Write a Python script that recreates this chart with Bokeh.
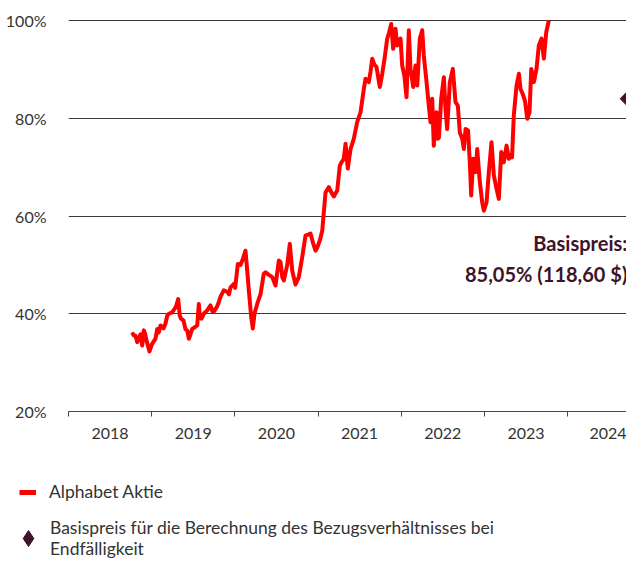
from bokeh.plotting import figure
from bokeh.layouts import column, row
from bokeh.models import Range1d, FixedTicker, Label, Legend, LegendItem, PrintfTickFormatter
from bokeh.embed import file_html
from bokeh.resources import INLINE

# ---- data ----
years = [2018.766, 2018.782, 2018.806, 2018.826, 2018.845, 2018.866, 2018.886, 2018.905, 2018.920, 2018.938,
         2018.974, 2019.004, 2019.046, 2019.067, 2019.086, 2019.106, 2019.142, 2019.166, 2019.187, 2019.206,
         2019.247, 2019.275, 2019.293, 2019.319, 2019.338, 2019.353, 2019.383, 2019.407, 2019.427, 2019.447,
         2019.467, 2019.487, 2019.515, 2019.548, 2019.567, 2019.579, 2019.599, 2019.627, 2019.668, 2019.707,
         2019.731, 2019.747, 2019.788, 2019.807, 2019.828, 2019.867, 2019.908, 2019.930, 2019.948, 2019.988,
         2020.004, 2020.036, 2020.068, 2020.092, 2020.128, 2020.149, 2020.168, 2020.197, 2020.216, 2020.236,
         2020.269, 2020.309, 2020.348, 2020.369, 2020.405, 2020.449, 2020.489, 2020.529, 2020.549, 2020.570,
         2020.589, 2020.630, 2020.661, 2020.690, 2020.729, 2020.769, 2020.810, 2020.850, 2020.880, 2020.910,
         2020.940, 2020.970, 2020.990, 2021.022, 2021.051, 2021.066, 2021.090, 2021.130, 2021.150, 2021.171,
         2021.190, 2021.231, 2021.262, 2021.283, 2021.310, 2021.331, 2021.358, 2021.391, 2021.430, 2021.471,
         2021.511, 2021.551, 2021.571, 2021.611, 2021.631, 2021.652, 2021.676, 2021.703, 2021.743, 2021.772,
         2021.800, 2021.832, 2021.854, 2021.880, 2021.904, 2021.932, 2021.952, 2021.992, 2022.012, 2022.040,
         2022.064, 2022.092, 2022.112, 2022.145, 2022.172, 2022.193, 2022.224, 2022.253, 2022.272, 2022.305,
         2022.332, 2022.353, 2022.373, 2022.392, 2022.413, 2022.425, 2022.440, 2022.453, 2022.481, 2022.513,
         2022.533, 2022.553, 2022.585, 2022.621, 2022.653, 2022.681, 2022.705, 2022.734, 2022.753, 2022.774,
         2022.804, 2022.825, 2022.842, 2022.866, 2022.894, 2022.914, 2022.946, 2022.974, 2022.994, 2023.026,
         2023.054, 2023.086, 2023.114, 2023.146, 2023.174, 2023.203, 2023.234, 2023.267, 2023.294, 2023.315,
         2023.333, 2023.354, 2023.387, 2023.415, 2023.435, 2023.467, 2023.489, 2023.516, 2023.543, 2023.564,
         2023.595, 2023.627, 2023.655, 2023.687, 2023.715, 2023.744, 2023.775]

values = [36.2, 35.6, 35.5, 34.2, 34.9, 35.8, 33.5, 36.6, 36.0, 34.5,
          32.3, 33.8, 34.9, 36.9, 36.2, 37.6, 37.0, 38.0, 39.6, 40.0,
          40.3, 41.0, 41.5, 43.0, 39.6, 39.0, 38.6, 36.8, 36.6, 34.9,
          35.8, 36.9, 37.2, 37.6, 42.0, 39.3, 39.0, 40.0, 40.7, 41.7,
          40.5, 40.4, 41.5, 42.4, 43.5, 44.8, 44.5, 44.0, 45.4, 46.1,
          45.3, 50.2, 50.0, 51.0, 52.9, 48.8, 44.8, 39.3, 37.0, 40.0,
          42.0, 44.0, 48.2, 48.5, 48.0, 47.5, 45.8, 50.9, 50.6, 47.5,
          46.8, 50.0, 54.3, 48.8, 46.0, 47.5, 51.6, 56.0, 56.2, 56.4,
          54.5, 52.9, 53.5, 55.0, 57.0, 60.0, 64.8, 65.9, 65.2, 64.5,
          64.0, 65.2, 70.3, 71.0, 71.7, 74.8, 69.7, 73.7, 75.8, 79.2,
          81.2, 86.0, 88.1, 87.4, 89.5, 92.2, 91.0, 90.5, 86.4, 89.1,
          92.2, 96.3, 97.5, 99.3, 94.2, 98.3, 94.9, 96.3, 90.8, 88.5,
          84.3, 98.0, 90.1, 86.4, 90.8, 86.7, 96.3, 98.0, 92.8, 87.4,
          82.6, 79.2, 84.0, 74.4, 80.6, 81.2, 75.8, 76.0, 84.0, 88.4,
          81.9, 77.8, 87.4, 90.1, 83.3, 82.6, 77.1, 75.8, 73.7, 77.8,
          77.5, 71.0, 64.2, 71.7, 69.0, 73.7, 66.9, 62.8, 61.1, 62.8,
          69.0, 75.1, 68.3, 65.6, 63.5, 73.1, 71.0, 74.4, 71.7, 72.5,
          72.0, 80.6, 86.7, 89.1, 86.0, 84.7, 83.5, 79.9, 81.2, 90.1,
          87.4, 90.1, 94.9, 96.3, 92.2, 97.6, 100.0]

year_bounds = [2018, 2019, 2020, 2021, 2022, 2023, 2024, 2025]
year_labels = ["2018", "2019", "2020", "2021", "2022", "2023", "2024"]
y_ticks = [20, 40, 60, 80, 100]

strike_year = [2024.709]
strike_value = [84.0]
strike_title = "Basispreis:"
strike_text = "85,05% (118,60 $)"

series_name = "Alphabet Aktie"
strike_name = "Basispreis für die Berechnung des Bezugsverhältnisses bei\nEndfälligkeit"

FONT = "Lato"
RED = "#ff0000"
MAROON = "#3d1428"
TXT = "#333333"

p = figure(width=626, height=445, output_backend="svg", toolbar_location=None,
           x_range=Range1d(2018, 2024.709), y_range=Range1d(20, 102.05),
           min_border_left=68, min_border_right=0, min_border_top=10, min_border_bottom=34)
p.outline_line_color = None
p.background_fill_color = "white"
p.border_fill_color = "white"

# x axis: labels centred in each year, small tick marks at year boundaries
label_pos = [(a + b) / 2 for a, b in zip(year_bounds[:-1], year_bounds[1:])]
p.xaxis.ticker = FixedTicker(ticks=label_pos, minor_ticks=year_bounds)
p.xaxis.major_label_overrides = {pos: lab for pos, lab in zip(label_pos, year_labels)}
p.xaxis.major_tick_line_color = None
p.xaxis.minor_tick_in = 0
p.xaxis.minor_tick_out = 5
p.xaxis.minor_tick_line_color = "#444444"
p.xaxis.axis_line_color = "#444444"
p.xaxis.major_label_standoff = 10
p.xaxis.major_label_text_font = FONT
p.xaxis.major_label_text_font_size = "16px"
p.xaxis.major_label_text_color = TXT

p.yaxis.ticker = FixedTicker(ticks=y_ticks)
p.yaxis.formatter = PrintfTickFormatter(format="%d%%")
p.yaxis.axis_line_color = None
p.yaxis.major_tick_line_color = None
p.yaxis.minor_tick_line_color = None
p.yaxis.major_label_standoff = 16
p.yaxis.major_label_text_font = FONT
p.yaxis.major_label_text_font_size = "16px"
p.yaxis.major_label_text_color = TXT

p.xgrid.grid_line_color = None
p.ygrid.grid_line_color = "#3a3a3a"
p.ygrid.grid_line_width = 1

p.line(years, values, line_color=RED, line_width=4, line_join="round")
p.scatter(strike_year, strike_value, marker="square", angle=0.7854, size=9,
          fill_color=MAROON, line_color=MAROON)

p.add_layout(Label(x=2024.72, y=54.4, text=strike_title, text_align="right", text_baseline="middle",
                   text_font=FONT, text_font_style="bold", text_font_size="20px", text_color=MAROON))
p.add_layout(Label(x=2024.72, y=48.2, text=strike_text, text_align="right", text_baseline="middle",
                   text_font=FONT, text_font_style="bold", text_font_size="20px", text_color=MAROON))

# ---- legend, in its own strip below the chart ----
lg = figure(width=626, height=117, output_backend="svg", toolbar_location=None,
            x_axis_type=None, y_axis_type=None, x_range=Range1d(0, 1), y_range=Range1d(0, 1),
            min_border=0, min_border_left=0, min_border_right=0, min_border_top=0, min_border_bottom=0)
lg.outline_line_color = None
lg.xgrid.grid_line_color = None
lg.ygrid.grid_line_color = None

# legend keys: one point each, kept outside the strip's visible range
key_x = [5]
key_y = [5]
leg_line = lg.line(key_x, key_y, line_color=RED, line_width=5)
leg_dia = lg.scatter(key_x, key_y, marker="diamond", size=16,
                     fill_color=MAROON, line_color=MAROON)

common = dict(orientation="vertical", padding=0, margin=0, border_line_color=None,
              background_fill_alpha=0, label_text_font=FONT, label_text_font_size="17.5px",
              label_text_color=TXT)

legend_line = Legend(items=[LegendItem(label=series_name, renderers=[leg_line])],
                     location=(19, 60), glyph_width=17, glyph_height=20, label_standoff=13, **common)
legend_dia = Legend(items=[LegendItem(label=strike_name, renderers=[leg_dia])],
                    location=(8, 3), glyph_width=40, glyph_height=40, label_standoff=2, **common)
lg.add_layout(legend_line, "center")
lg.add_layout(legend_dia, "center")

open("out.html", "w").write(file_html(column(p, row(lg), spacing=0), INLINE))
